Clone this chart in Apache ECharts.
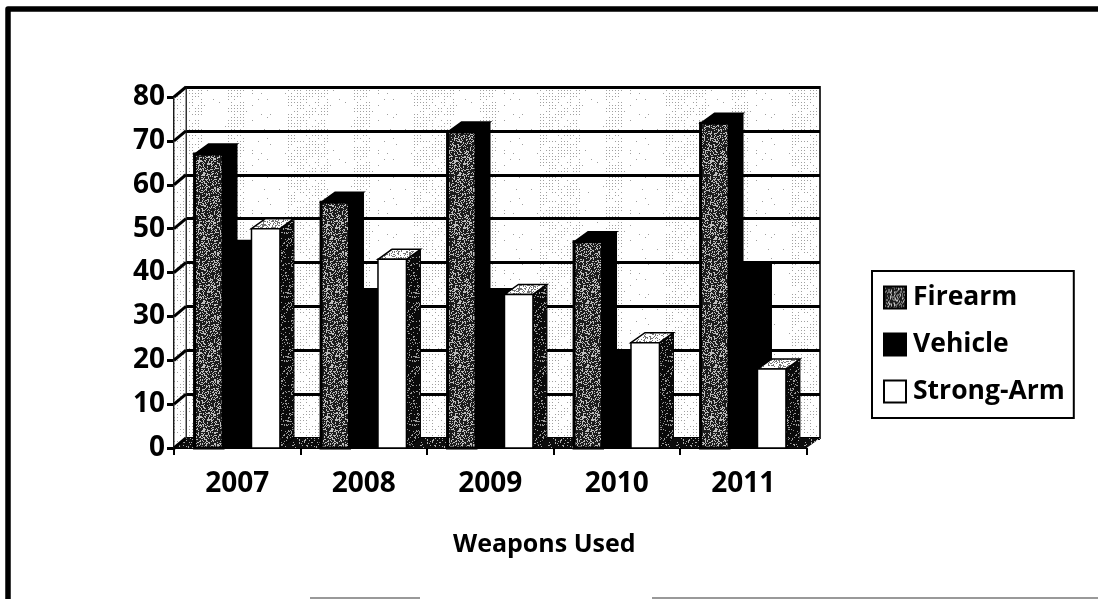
<!DOCTYPE html>
<html><head><meta charset="utf-8">
<style>html,body{margin:0;padding:0;background:#fff}#c{width:1098px;height:599px}</style>
<script src="https://cdn.jsdelivr.net/npm/echarts@6/dist/echarts.min.js"></script>
</head><body><div id="c"></div>
<script>
const categories = ['2007','2008','2009','2010','2011'];
const firearm = [67,56,72,47,74];
const vehicle = [45,34,34,20,40];
const strongArm = [50,43,35,24,18];
const yTicks = [0,10,20,30,40,50,60,70,80];
const seriesNames = ['Firearm','Vehicle','Strong-Arm'];
const FONT = '"Open Sans"';
const DX = 12, DY = 10;

function hash(x,y){ const s = Math.sin(x*127.1+y*311.7)*43758.5453; return s-Math.floor(s); }
function tile(w,h,bg,paint){
  const c = document.createElement('canvas'); c.width=w; c.height=h;
  const g = c.getContext('2d'); g.fillStyle=bg; g.fillRect(0,0,w,h); paint(g,w,h);
  return {image:c, repeat:'repeat'};
}
const noise = (bg,fg,rate) => tile(64,64,bg,(g,w,h)=>{
  g.fillStyle=fg;
  for(let y=0;y<h;y++)for(let x=0;x<w;x++) if(hash(x,y)<rate) g.fillRect(x,y,1,1);
});
const firearmFill = noise('#1c1c1c','#bdbdbd',0.32);
const sideFill = noise('#0a0a0a','#9a9a9a',0.16);
const topFill = noise('#ffffff','#777777',0.28);
const floorFill = noise('#0c0c0c','#aaaaaa',0.12);
const wallFill = tile(126,60,'#ffffff',(g,w,h)=>{
  for(let y=0;y<h;y+=3)for(let x=0;x<w;x+=3){
    const dense = (x>=36&&x<78)||(x>=102&&x<120);
    if(hash(x,y)<(dense?0.65:0.05)){ g.fillStyle='#a0a0a0'; g.fillRect(x,y,1,1); }
  }
});

const wallSeries = {
  type:'custom', xAxisIndex:0, yAxisIndex:0, silent:true, z:1, data:yTicks.map(v=>[0,v]),
  renderItem(params,api){
    const v = api.value(1);
    const p = api.coord([0,v]);
    const x0 = p[0]-api.size([1,0])[0]/2, y0 = p[1];
    const kids = [];
    if(params.dataIndex===0){
      const top = api.coord([0,80])[1];
      kids.push({type:'polygon',shape:{points:[[x0,y0],[x0+DX,y0-DY],[x0+DX,top-DY],[x0,top]]},style:{fill:wallFill,stroke:'#333',lineWidth:1}});
      const rightEnd = api.coord([4,0])[0]+api.size([1,0])[0]/2;
      kids.push({type:'polygon',shape:{points:[[x0,y0],[rightEnd,y0],[rightEnd+DX+2,y0-DY],[x0+DX,y0-DY]]},style:{fill:floorFill}});
    }
    kids.push({type:'line',shape:{x1:x0,y1:y0,x2:x0+DX,y2:y0-DY},style:{stroke:'#000',lineWidth:3}});
    return {type:'group',children:kids};
  }
};

function barSeries(name,values,idx,front,side,top){
  return {
    type:'custom', name, xAxisIndex:0, yAxisIndex:0, z:3, silent:true,
    itemStyle:{color:front,borderColor:'#000',borderWidth:1.5},
    encode:{x:0,y:1}, data:values.map((v,i)=>[i,v]),
    renderItem(params,api){
      const c = api.coord([api.value(0),api.value(1)]);
      const z = api.coord([api.value(0),0]);
      const band = api.size([1,0])[0];
      const w = band*0.225, gstart = c[0]-1.5*w;
      const x = gstart+idx*w, y=c[1], b=z[1];
      const sx = 14, sy = DY;
      return {type:'group',children:[
        {type:'polygon',shape:{points:[[x+w,y],[x+w+sx,y-sy],[x+w+sx,b-sy],[x+w,b]]},style:{fill:side,stroke:'#000',lineWidth:1}},
        {type:'polygon',shape:{points:[[x,y],[x+sx,y-sy],[x+w+sx,y-sy],[x+w,y]]},style:{fill:top,stroke:'#000',lineWidth:1.5}},
        {type:'rect',shape:{x,y,width:w,height:b-y},style:{fill:front,stroke:'#000',lineWidth:idx===0?3:(idx===2?1.5:2)}}
      ]};
    }
  };
}

const chart = echarts.init(document.getElementById('c'),null,{renderer:'canvas'});
chart.setOption({
  animation:false, backgroundColor:'#fff',
  graphic:[
    {type:'polyline',silent:true,z:0,shape:{points:[[8,599],[8,9],[1098,9]]},style:{stroke:'#000',fill:null,lineWidth:5.5,lineJoin:'round'}},
    {type:'line',silent:true,z:0,shape:{x1:310,y1:598,x2:420,y2:598},style:{stroke:'#999',lineWidth:2}},
    {type:'line',silent:true,z:0,shape:{x1:652,y1:598,x2:1098,y2:598},style:{stroke:'#999',lineWidth:2}},
    {type:'text',silent:true,left:453,top:532,style:{text:'Weapons Used',font:'bold 25px '+FONT,fill:'#000'}}
  ],
  grid:[
    {left:174,top:97,width:632.5,height:351},
    {left:186,top:87,width:634,height:351,show:true,backgroundColor:wallFill,borderColor:'#333',borderWidth:2,z:0}
  ],
  xAxis:[
    {type:'category',gridIndex:0,data:categories,
     axisLine:{lineStyle:{color:'#000',width:2}},axisTick:{show:true,alignWithLabel:false,length:7,lineStyle:{color:'#000',width:2}},
     axisLabel:{color:'#000',fontFamily:FONT,fontWeight:'bold',fontSize:28,margin:22}},
    {type:'category',gridIndex:1,data:categories,show:false}
  ],
  yAxis:[
    {type:'value',gridIndex:0,min:0,max:80,interval:10,
     axisLine:{show:true,lineStyle:{color:'#000',width:3}},axisTick:{show:true,length:7,lineStyle:{color:'#000',width:3}},
     splitLine:{show:false},
     axisLabel:{color:'#000',fontFamily:FONT,fontWeight:'bold',fontSize:28,margin:9,padding:[6,0,0,0]}},
    {type:'value',gridIndex:1,min:0,max:80,interval:10,
     axisLine:{show:false},axisTick:{show:false},axisLabel:{show:false},
     splitLine:{show:true,lineStyle:{color:'#000',width:3}}}
  ],
  legend:{
    show:true, orient:'vertical', left:872, top:271, data:seriesNames,
    backgroundColor:'#fff', borderColor:'#000', borderWidth:2, padding:[13,9,13,11], itemGap:20, itemWidth:22, itemHeight:22,
    selectedMode:false, icon:'rect',
    textStyle:{color:'#000',fontFamily:FONT,fontWeight:'bold',fontSize:26.5,padding:[0,0,0,2]}
  },
  series:[
    wallSeries,
    barSeries('Firearm',firearm,0,firearmFill,'#000','#000'),
    barSeries('Vehicle',vehicle,1,'#000','#000','#000'),
    barSeries('Strong-Arm',strongArm,2,'#fff',sideFill,topFill)
  ]
});
</script></body></html>
